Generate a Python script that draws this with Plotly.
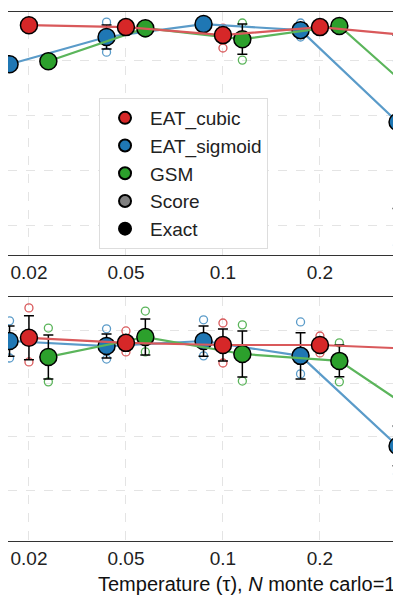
import plotly.graph_objects as go

temps = ["0.02", "0.05", "0.1", "0.2", "0.5"]
offsets = {"EAT_cubic": 0.0, "EAT_sigmoid": -0.2, "GSM": 0.2}
colors = {"EAT_cubic": "#d62728", "EAT_sigmoid": "#1f77b4", "GSM": "#2ca02c"}
lcolors = {"EAT_cubic": "#d9595b", "EAT_sigmoid": "#5a9bc9", "GSM": "#5bb55b"}

# top panel
top_mean = {
    "EAT_cubic": [1.127, 1.12, 1.091, 1.12, 1.087],
    "EAT_sigmoid": [0.985, 1.084, 1.131, 1.109, 0.775],
    "GSM": [0.996, 1.116, 1.076, 1.124, 0.811],
}
top_err = {
    "EAT_cubic": [0, 0, 0.022, 0, 0],
    "EAT_sigmoid": [0, 0.044, 0, 0, 0.315],
    "GSM": [0, 0, 0.055, 0, 0],
}
top_score_cat = {"EAT_cubic": [2, 2], "EAT_sigmoid": [1, 1, 3, 3, 4, 4], "GSM": [1, 2, 2]}
top_score_val = {"EAT_cubic": [1.044, 1.116], "EAT_sigmoid": [1.138, 1.029, 1.135, 1.084, 0.996, 0.327],
                 "GSM": [1.098, 1.0, 1.135]}

# bottom panel
bot_mean = {
    "EAT_cubic": [0.974, 0.955, 0.947, 0.947, 0.932],
    "EAT_sigmoid": [0.962, 0.943, 0.962, 0.906, 0.566],
    "GSM": [0.902, 0.977, 0.913, 0.887, 0.642],
}
bot_err = {
    "EAT_cubic": [0.083, 0.026, 0.060, 0.019, 0],
    "EAT_sigmoid": [0.057, 0.045, 0.057, 0.087, 0.075],
    "GSM": [0.083, 0.068, 0.087, 0.060, 0],
}
bot_score_cat = {"EAT_cubic": [0, 0, 1, 1, 2, 2, 3, 3], "EAT_sigmoid": [0, 0, 1, 1, 2, 2, 3, 3, 4, 4],
                 "GSM": [0, 0, 1, 1, 2, 2, 3, 3]}
bot_score_val = {"EAT_cubic": [1.087, 0.883, 1.0, 0.921, 1.03, 0.879, 0.981, 0.917],
                 "EAT_sigmoid": [1.038, 0.898, 1.008, 0.894, 1.042, 0.906, 1.034, 0.838, 0.638, 0.460],
                 "GSM": [1.011, 0.808, 1.075, 0.921, 1.023, 0.811, 0.955, 0.808]}

order = ["EAT_sigmoid", "GSM", "EAT_cubic"]
fig = go.Figure()
for axis, mean, err, sc, sv in [("", top_mean, top_err, top_score_cat, top_score_val),
                                 ("2", bot_mean, bot_err, bot_score_cat, bot_score_val)]:
    for name in order:
        off = offsets[name]
        fig.add_trace(go.Scatter(
            x=[c + off for c in sc[name]], y=sv[name], mode="markers", xaxis="x" + axis, yaxis="y" + axis,
            marker=dict(size=8, color="rgba(0,0,0,0)", line=dict(color=lcolors[name], width=1.3)),
            showlegend=False))
    for name in order:
        off = offsets[name]
        fig.add_trace(go.Scatter(
            x=[i + off for i in range(len(temps))], y=mean[name], mode="lines+markers",
            xaxis="x" + axis, yaxis="y" + axis,
            line=dict(color=lcolors[name], width=2.2),
            marker=dict(size=17, color=colors[name], line=dict(color="black", width=1.5)),
            error_y=dict(type="data", array=err[name], color="black", thickness=1.5, width=5),
            showlegend=False))

for name in ["EAT_cubic", "EAT_sigmoid", "GSM"]:
    fig.add_trace(go.Scatter(x=[None], y=[None], mode="markers", name=name,
                             marker=dict(size=17, color=colors[name], line=dict(color="black", width=1.5))))
fig.add_trace(go.Scatter(x=[None], y=[None], mode="markers", name="Score",
                         marker=dict(size=17, color="#808080", line=dict(color="black", width=1.5))))
fig.add_trace(go.Scatter(x=[None], y=[None], mode="markers", name="Exact",
                         marker=dict(size=17, color="black", line=dict(color="black", width=1.5))))

xa = dict(range=[-0.216, 3.918], tickvals=list(range(len(temps))), ticktext=temps,
          showgrid=True, gridcolor="#e4e4e4", griddash="dash", zeroline=False, automargin=False,
          showline=True, linecolor="#333", mirror=True, ticks="", tickfont=dict(size=19, color="#222"))
ya = dict(showticklabels=False, showgrid=True, gridcolor="#e4e4e4", griddash="dash", zeroline=False,
          showline=True, linecolor="#333", mirror=True, ticks="", dtick=0.2, tick0=0, automargin=False)
fig.update_layout(
    width=401, height=604, margin=dict(l=0, r=0, t=0, b=0, autoexpand=False),
    plot_bgcolor="white", paper_bgcolor="white",
    font=dict(family="Liberation Sans", color="#222"),
    xaxis=dict(xa, domain=[0, 1], anchor="y"),
    yaxis=dict(ya, domain=[0.591, 0.9934], range=[0.291, 1.175], anchor="x"),
    xaxis2=dict(xa, domain=[0, 1], anchor="y2"),
    yaxis2=dict(ya, domain=[0.1175, 0.5215], range=[0.2075, 1.128], anchor="x2"),
    legend=dict(x=0.227, y=0.851, xanchor="left", yanchor="top", bgcolor="white",
                bordercolor="#dddddd", borderwidth=1, font=dict(size=19), itemsizing="constant",
                itemwidth=40, tracegroupgap=4),
    annotations=[dict(text="Temperature (τ), <i>N</i> monte carlo=1", x=1.0, y=0.047, xref="paper",
                      yref="paper", xanchor="right", yanchor="middle", showarrow=False,
                      font=dict(size=20, color="#111"), xshift=-12)],
)
fig.write_html("out.html")
